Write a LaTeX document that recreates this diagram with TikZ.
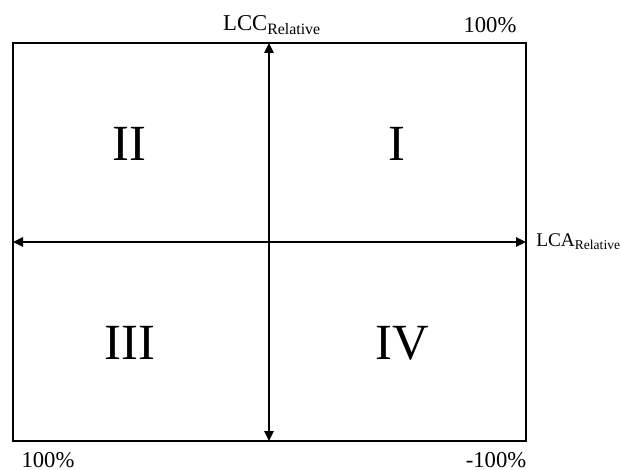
\documentclass[tikz,border=0pt]{standalone}
\usepackage{fontspec}
\setmainfont{Liberation Serif}
\usetikzlibrary{arrows.meta,positioning}
\tikzset{
  frame/.style={draw=black, line width=1.5pt},
  axis/.style={{Triangle[length=7.5pt,width=7pt]}-{Triangle[length=7.5pt,width=7pt]}, line width=1.2pt, draw=black},
  quad/.style={font=\fontsize{38}{40}\selectfont, inner sep=0pt},
  lbl/.style={font=\fontsize{17}{19}\selectfont, inner sep=0pt}
}

\begin{document}
\begin{tikzpicture}[x=0.75pt, y=-0.75pt]
  \useasboundingbox (0,0) rectangle (621,470);
  \coordinate (nw) at (13,43);
  \coordinate (se) at (526,441);
  \coordinate (top) at (269,43);
  \coordinate (bottom) at (269,441);
  \coordinate (left) at (13,242);
  \coordinate (right) at (526,242);

  \draw[frame] (nw) rectangle (se);
  \draw[axis] (top) -- (bottom);
  \draw[axis] (left) -- (right);

  \node[quad] (q1) at (397,144) {I};
  \node[quad] (q2) at (129,144) {II};
  \node[quad] (q3) at (130,343) {III};
  \node[quad] (q4) at (402,343) {IV};

  \node[lbl, anchor=base] (lcc) at (272,31) {LCC\textsubscript{Relative}};
  \node[lbl, anchor=base] (ptop) at (490,33) {100\%};
  \node[lbl, font=\fontsize{14.5}{16}\selectfont, anchor=base west] (lca) at (536,247) {LCA\textsubscript{Relative}};
  \node[lbl, anchor=base] (pbl) at (48,467) {100\%};
  \node[lbl, anchor=base] (pbr) at (496,467) {-100\%};
\end{tikzpicture}
\end{document}
